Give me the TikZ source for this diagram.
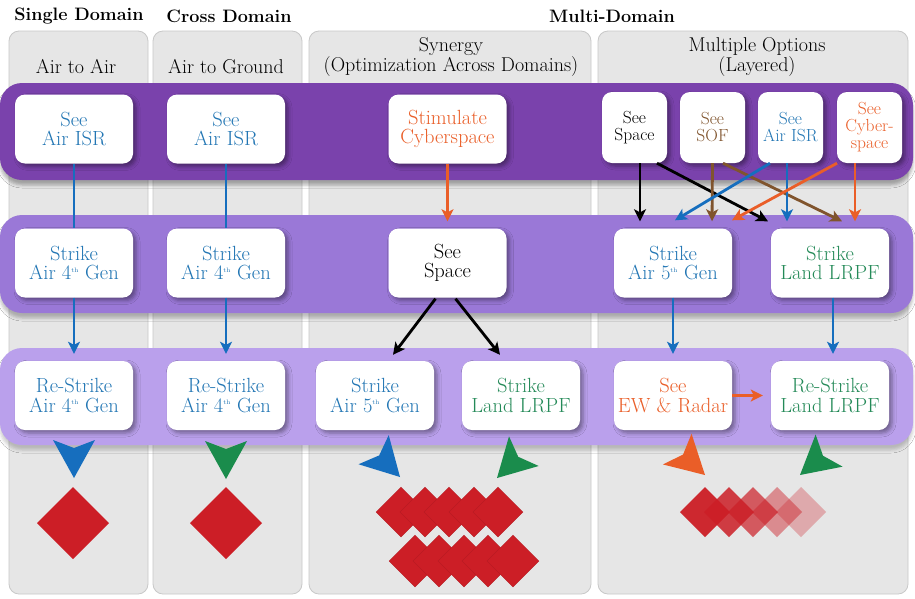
\documentclass[tikz,border=0pt]{standalone}
\usetikzlibrary{arrows.meta,shadows.blur,calc}
\definecolor{bandA}{RGB}{122,66,172}
\definecolor{bandB}{RGB}{154,120,215}
\definecolor{bandC}{RGB}{186,160,236}
\definecolor{panelfill}{RGB}{230,230,230}
\definecolor{panelline}{RGB}{200,200,200}
\definecolor{cblue}{RGB}{22,110,190}
\definecolor{corange}{RGB}{234,94,40}
\definecolor{cbrown}{RGB}{128,84,45}
\definecolor{cgreen}{RGB}{26,140,76}
\definecolor{tblue}{RGB}{34,118,180}
\definecolor{tgreen}{RGB}{36,138,88}
\definecolor{cred}{RGB}{204,30,38}
\newcommand{\thsup}{\textsuperscript{\fontsize{6.5}{6.5}\selectfont th}}
\tikzset{
  panel/.style={fill=panelfill, draw=panelline, line width=0.8pt, rounded corners=10pt},
  stepbox/.style={rectangle, rounded corners=10pt, fill=white, minimum width=118pt,
    minimum height=69pt, align=center, inner sep=0pt,
    font=\fontsize{20.5}{19.5}\selectfont,
    blur shadow={shadow xshift=3pt, shadow yshift=-3pt, shadow blur radius=4pt, shadow opacity=40}},
  smallbox/.style={stepbox, minimum width=65pt, minimum height=71pt, font=\fontsize{17.5}{17}\selectfont},
  title/.style={font=\fontsize{18}{18}\selectfont\bfseries},
  header/.style={font=\fontsize{20}{19.5}\selectfont, align=center},
  conn/.style={line width=2.8pt, -{Stealth[length=12pt,width=12pt,inset=3pt]}},
  plainconn/.style={line width=2.8pt},
  bighead/.pic={\fill[#1] (0,0) -- (-38,-21) -- (-30,0) -- (-38,21) -- cycle;},
  bandshadow/.style={blur shadow={shadow xshift=0pt, shadow yshift=-5pt, shadow blur radius=3pt, shadow opacity=#1}},
}
\begin{document}
\begin{tikzpicture}[x=1pt,y=-1pt]
\useasboundingbox (0,0) rectangle (915,598);
\fill[white] (0,0) rectangle (915,598);

% panels
\draw[panel] (9,31) rectangle (148,594);
\draw[panel] (153,31) rectangle (302,594);
\draw[panel] (309,31) rectangle (591,594);
\draw[panel] (598,31) rectangle (908,594);

% titles
\node[title] (t1) at (79,16) {Single Domain};
\node[title] (t2) at (229,16) {Cross Domain};
\node[title] (t3) at (612,16) {Multi-Domain};

% headers
\node[header] (h1) at (76,67) {Air to Air};
\node[header] (h2) at (226,67) {Air to Ground};
\node[header] (h3) at (451,57) {Synergy\\(Optimization Across Domains)};
\node[header] (h4) at (757,57) {Multiple Options\\(Layered)};

% bands
\fill[bandA, rounded corners=22pt, bandshadow=30] (0,83) rectangle (913,180);
\fill[bandB, rounded corners=22pt, bandshadow=25] (0,215) rectangle (913,313);
\fill[bandC, rounded corners=22pt, bandshadow=20] (0,348) rectangle (913,445);

% row 1
\node[stepbox, text=tblue] (a1) at (74,129) {See\\Air ISR};
\node[stepbox, text=tblue] (b1) at (226,129) {See\\Air ISR};
\node[stepbox, text=corange] (stim) at (447.5,129) {Stimulate\\Cyberspace};
\node[smallbox, text=black] (ssp) at (634.5,127.5) {See\\Space};
\node[smallbox, text=cbrown] (sof) at (712.5,127.5) {See\\SOF};
\node[smallbox, text=tblue] (sisr) at (790.5,127.5) {See\\Air ISR};
\node[smallbox, text=corange] (scy) at (869.5,127.5) {See\\Cyber-\\space};

% row 2
\node[stepbox, text=tblue] (a2) at (74,263) {Strike\\Air 4\thsup{} Gen};
\node[stepbox, text=tblue] (b2) at (226,263) {Strike\\Air 4\thsup{} Gen};
\node[stepbox, text=black] (msp) at (447.5,263) {See\\Space};
\node[stepbox, text=tblue] (s5) at (673,263) {Strike\\Air 5\thsup{} Gen};
\node[stepbox, text=tgreen] (slr) at (830,263) {Strike\\Land LRPF};

% row 3
\node[stepbox, text=tblue] (a3) at (74,395.5) {Re-Strike\\Air 4\thsup{} Gen};
\node[stepbox, text=tblue] (b3) at (226,395.5) {Re-Strike\\Air 4\thsup{} Gen};
\node[stepbox, text=tblue] (m5) at (375,395.5) {Strike\\Air 5\thsup{} Gen};
\node[stepbox, text=tgreen] (mlr) at (521,395.5) {Strike\\Land LRPF};
\node[stepbox, text=corange] (ew) at (673,395.5) {See\\EW \& Radar};
\node[stepbox, text=tgreen] (rlr) at (830,395.5) {Re-Strike\\Land LRPF};

% connectors columns 1-2
\draw[plainconn, cblue] (a1.south) -- (a2.north);
\draw[plainconn, cblue] (b1.south) -- (b2.north);
\draw[conn, cblue] (a2.south) -- ($(a3.north)+(0,-7)$);
\draw[conn, cblue] (b2.south) -- ($(b3.north)+(0,-7)$);

% synergy column
\draw[conn, corange] (stim.south) -- ($(msp.north)+(0,-7)$);
\draw[conn, black] ($(msp.south)+(-12,1)$) -- ($(m5.north)+(18,-6)$);
\draw[conn, black] ($(msp.south)+(8,1)$) -- ($(mlr.north)+(-21,-6)$);

% layered column
\draw[conn, black] ($(ssp.south)+(5.5,0)$) -- ($(s5.north)+(-33,-7)$);
\draw[conn, black] ($(ssp.south)+(22.5,0)$) -- ($(slr.north)+(-62,-7)$);
\draw[conn, cbrown] ($(sof.south)+(0,0)$) -- ($(s5.north)+(39,-7)$);
\draw[conn, cbrown] ($(sof.south)+(10.5,0)$) -- ($(slr.north)+(12,-7)$);
\draw[conn, cblue] ($(sisr.south)+(-20.5,0)$) -- ($(s5.north)+(2,-8)$);
\draw[conn, cblue] ($(sisr.south)+(-3.5,0)$) -- ($(slr.north)+(-43,-7)$);
\draw[conn, corange] ($(scy.south)+(-32.5,0)$) -- ($(s5.north)+(59,-8)$);
\draw[conn, corange] ($(scy.south)+(-14.5,0)$) -- ($(slr.north)+(25,-7)$);

\draw[conn, cblue] (s5.south) -- ($(ew.north)+(0,-7)$);
\draw[conn, cblue] ($(slr.south)+(3,0)$) -- ($(rlr.north)+(3,-7)$);
\draw[conn, corange, line width=2.3pt] (ew.east) -- ($(rlr.west)+(-8,0)$);

% big arrowheads
\pic[rotate=-90] at (74,478) {bighead=cblue};
\pic[rotate=-90] at (226,479) {bighead=cgreen};
\pic[rotate=-46] at (400,477) {bighead=cblue};
\pic[rotate=-135] at (497,478) {bighead=cgreen};
\pic[rotate=-43] at (705,475) {bighead=corange};
\pic[rotate=-140] at (800,475) {bighead=cgreen};

% diamonds
\fill[cred] (73,487) -- (109,523) -- (73,559) -- (37,523) -- cycle;
\fill[cred] (226,487) -- (262,523) -- (226,559) -- (190,523) -- cycle;
\foreach \cx in {401,425,449,474,498}
  \filldraw[fill=cred, draw=cred!85!black, line width=0.3pt] (\cx,487) -- (\cx+25,512) -- (\cx,537) -- (\cx-25,512) -- cycle;
\foreach \cx in {415,439,464,488,513}
  \filldraw[fill=cred, draw=cred!85!black, line width=0.3pt] (\cx,535) -- (\cx+26,561) -- (\cx,587) -- (\cx-26,561) -- cycle;
\foreach \cx/\op in {705/0.95,729/0.85,753/0.7,777/0.45,801/0.3}
  \fill[cred, opacity=\op] (\cx,487) -- (\cx+25,512) -- (\cx,537) -- (\cx-25,512) -- cycle;
\end{tikzpicture}
\end{document}
